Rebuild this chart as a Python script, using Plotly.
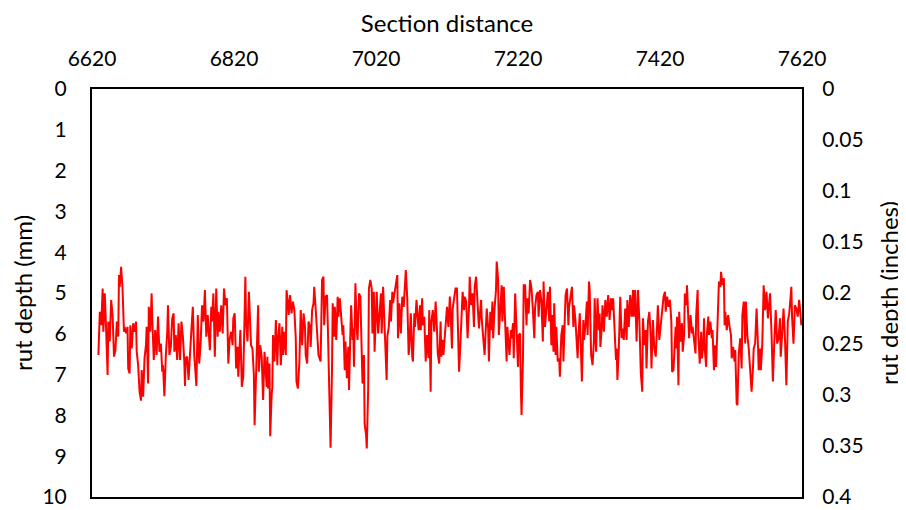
import plotly.graph_objects as go

# Section distance (ft) and rut depth (mm) in six stretches
dist_a = [6629,6631,6633,6635,6636,6638,6640,6642,6643,6645,6647,6649,6651,6653,6655,6657,6658,6659,6661,6663,
          6665,6666,6668,6670,6671,6673,6674,6676,6678,6680,6682,6683,6685,6687,6689,6690,6692,6694,6696,6697,
          6699,6700,6702,6704,6705,6707,6709,6711,6713,6715,6717,6719,6720,6722,6724,6726,6727,6729,6731,6733,
          6735,6736,6738,6740,6742,6744,6746,6748,6750,6751,6752,6754,6756,6758,6760,6762,6764,6766,6767,6769,
          6771,6773,6775,6777]
rut_a = [6.52,5.46,5.79,4.89,5.95,5.01,5.95,7.01,5.70,6.19,5.17,5.54,6.56,6.40,5.70,6.07,4.56,4.85,4.36,4.89,
         5.95,5.83,5.99,5.83,6.85,6.97,5.79,6.36,5.74,5.95,5.70,6.44,6.77,7.42,7.64,6.89,7.54,6.60,6.28,5.83,
         7.22,5.34,5.95,5.01,5.70,6.64,5.91,6.52,5.58,6.44,6.24,6.93,6.77,7.53,6.52,5.95,5.30,6.52,6.32,5.62,
         5.50,6.44,6.03,6.64,5.74,6.64,5.70,6.07,6.68,7.28,6.60,6.56,7.13,6.36,5.91,5.34,6.52,7.01,7.28,5.54,
         6.73,6.24,5.30,5.70]

dist_b = [6779,6781,6783,6786,6788,6789,6791,6793,6795,6797,6798,6800,6802,6804,6806,6808,6810,6812,6814,6816,
          6818,6819,6821,6823,6825,6826,6828,6829,6831,6833,6834,6836,6837,6839,6841,6843,6844,6846,6848,6849,
          6851,6852,6854,6855,6857,6859,6861,6863,6864,6866,6867,6868,6870,6871,6873,6874,6875,6877,6879,6881,
          6882,6884,6886,6888,6889,6891,6893,6894,6896,6897,6899,6901,6903,6905,6907,6908,6910,6912,6914,6916,
          6918,6920,6921,6923,6925,6927,6928,6930,6932,6933,6935,6937,6939]
rut_b = [4.93,6.07,5.54,6.40,5.34,5.70,5.01,6.56,4.89,6.07,5.46,5.95,5.30,5.99,4.89,5.30,5.13,6.73,6.11,5.95,
         6.28,5.62,5.50,6.85,6.32,7.05,6.24,5.91,7.30,7.05,6.28,4.60,5.70,6.19,4.97,5.70,6.28,6.36,7.01,8.24,
         7.17,6.56,5.30,6.93,6.28,6.56,7.62,6.44,6.85,7.30,6.56,7.34,6.73,8.51,7.50,7.30,6.03,6.68,5.66,6.77,
         6.19,5.74,6.77,5.83,6.52,5.95,6.52,4.93,5.25,5.54,5.05,5.50,5.21,5.42,6.11,7.17,7.34,6.73,5.42,6.28,
         5.50,5.83,6.52,6.73,5.70,5.83,6.32,5.42,5.25,4.85,5.38,6.11,6.52]

dist_c = [6942,6944,6946,6947,6949,6951,6952,6954,6956,6958,6959,6961,6962,6964,6966,6967,6969,6971,6973,6974,
          6976,6977,6979,6981,6982,6984,6985,6987,6988,6989,6991,6993,6994,6996,6998,6999,7001,7003,7004,7006,
          7007,7009,7010,7012,7014,7015,7017,7018,7020,7021,7023,7025,7027,7028,7030,7032,7033,7035,7036,7038,
          7040,7041,7043,7044,7046,7048,7050,7051,7053,7055,7057,7059,7060,7062,7064,7066,7067,7069,7071,7072,
          7074,7075,7077,7079,7080,7082,7083,7085,7086,7088,7090,7092,7094,7095,7097,7098,7100,7102]
rut_c = [6.68,4.68,4.60,5.79,5.09,5.05,5.70,7.75,8.79,6.93,5.25,6.07,5.34,6.15,5.09,5.58,5.13,5.58,6.03,5.79,
         6.89,6.19,7.09,6.32,7.38,5.91,5.30,6.15,5.87,6.81,4.76,5.91,6.15,5.01,5.09,5.83,7.22,6.52,8.20,8.48,
         8.81,7.34,4.89,4.68,4.89,5.99,4.97,6.44,5.70,4.97,5.99,5.38,5.01,5.99,4.85,5.79,6.32,7.13,6.07,5.83,
         5.17,5.70,4.97,5.25,5.01,4.81,4.56,6.11,5.25,5.99,5.09,5.34,4.97,4.44,5.13,6.52,6.32,5.50,6.56,6.68,
         5.50,5.83,5.17,5.79,5.91,5.30,5.91,5.13,5.79,5.58,6.68,6.03,6.60,5.42,7.42,5.70,5.42,5.95]

dist_d = [7104,7106,7107,7109,7111,7112,7114,7115,7117,7119,7120,7122,7124,7125,7127,7128,7130,7132,7134,7136,
          7137,7139,7141,7142,7144,7145,7147,7149,7151,7152,7154,7156,7158,7159,7161,7163,7165,7166,7168,7169,
          7171,7173,7174,7176,7178,7179,7181,7182,7184,7185,7187,7189,7190,7192,7193,7195,7197,7198,7200,7202,
          7204,7205,7206,7208,7210,7211,7213,7214,7216,7218,7220,7221,7223,7224,7225,7227,7228,7230,7232,7233,
          7235,7237,7239,7241,7243,7244,7246,7248,7249,7251,7253,7255,7256,7258,7260,7262,7264]
rut_d = [5.21,5.95,6.48,6.73,5.70,6.56,6.15,6.52,6.11,5.58,5.34,5.83,5.09,5.46,6.36,5.38,5.05,4.89,4.89,6.07,
         6.93,6.19,5.50,4.97,5.42,5.09,5.21,6.11,5.34,4.60,5.30,5.01,5.83,4.85,4.60,5.38,5.87,5.62,5.17,5.66,
         6.15,6.52,6.11,5.38,5.87,6.68,5.46,5.91,5.21,6.11,5.38,4.93,4.23,4.68,6.03,5.30,4.81,5.70,4.85,5.79,
         6.68,5.83,6.03,6.52,5.91,6.11,5.74,6.60,5.01,5.95,6.81,6.03,5.99,7.34,7.99,6.60,4.81,4.81,5.79,5.13,
         5.50,4.68,4.89,5.42,6.11,5.38,5.05,4.97,5.58,4.93,5.21,6.19,4.72,5.83,5.30,4.97,5.70]

dist_e = [7265,7267,7268,7270,7271,7273,7274,7276,7278,7279,7281,7283,7284,7286,7287,7289,7291,7292,7294,7296,
          7298,7299,7301,7303,7304,7305,7307,7310,7312,7313,7315,7317,7318,7320,7321,7323,7325,7327,7328,7330,
          7332,7334,7335,7336,7338,7339,7341,7343,7345,7347,7349,7351,7352,7354,7356,7358,7359,7360,7362,7364,
          7366,7367,7369,7371,7373,7374,7376,7378,7380,7382,7383,7385,7387,7389,7391,7393,7395,7396,7398,7400,
          7401,7403,7405,7407,7408,7410,7412,7414,7415,7417,7419,7421,7423,7425,7427,7428,7430,7432,7434,7436,
          7437,7439]
rut_e = [4.85,6.28,5.54,6.44,5.25,6.52,5.83,6.68,6.60,7.05,6.03,5.79,6.68,5.58,5.05,4.89,5.79,5.34,5.09,4.85,
         5.83,5.30,5.70,6.44,6.60,6.11,5.50,7.17,5.66,6.15,5.79,5.21,6.03,4.72,4.93,6.52,6.77,6.15,5.13,6.44,
         5.13,5.91,5.50,6.32,5.83,5.30,5.95,5.17,5.58,5.05,5.66,5.13,5.42,5.13,6.03,6.64,6.36,7.13,6.36,5.09,
         6.11,5.87,6.15,5.38,6.15,5.17,5.83,5.05,5.58,4.93,5.58,4.93,6.19,4.93,5.70,6.97,7.42,5.62,6.28,5.91,
         6.85,5.70,5.46,6.11,6.85,5.66,6.36,6.56,6.19,5.30,6.15,5.79,5.42,5.09,4.97,5.46,5.09,5.34,5.17,5.70,
         6.93,6.89]

dist_f = [7442,7443,7444,7446,7447,7449,7451,7452,7454,7455,7457,7458,7460,7461,7463,7465,7466,7468,7470,7471,
          7473,7474,7476,7478,7479,7481,7482,7483,7485,7486,7488,7489,7491,7493,7494,7496,7497,7499,7501,7503,
          7505,7506,7508,7510,7511,7512,7514,7516,7518,7520,7521,7523,7525,7526,7528,7529,7531,7533,7535,7536,
          7538,7540,7541,7543,7545,7547,7549,7551,7552,7554,7556,7558,7559,7561,7562,7564,7566,7568,7570,7572,
          7574,7575,7577,7579,7581,7583,7585,7587,7589,7590,7592,7594,7596,7598,7600,7602,7604,7605,7606,7608,
          7610,7612,7614,7616,7618,7619]
rut_f = [5.83,6.36,5.58,7.26,5.46,6.19,5.74,6.44,6.03,5.01,5.30,4.81,5.70,6.11,5.54,5.99,5.83,6.19,6.48,5.54,
         4.93,6.03,6.73,5.95,6.60,6.28,5.62,6.36,6.81,6.03,5.58,6.03,5.70,6.11,5.91,6.89,6.28,6.81,5.79,4.72,
         4.85,4.48,4.81,4.64,5.79,5.46,5.91,5.54,5.83,6.03,6.60,6.32,6.68,6.40,7.71,7.75,6.48,6.11,6.85,5.54,
         5.21,6.24,5.21,6.03,6.36,6.93,7.42,6.81,6.36,6.24,5.38,6.28,6.89,6.36,6.89,6.28,4.81,5.42,4.97,5.62,
         5.30,5.01,5.95,7.17,6.19,5.42,6.24,6.11,5.62,6.56,6.03,5.38,6.11,7.26,5.70,5.50,5.09,4.85,5.58,6.24,
         5.30,5.38,5.58,5.17,5.54,5.79]

x_ticks = [6620, 6820, 7020, 7220, 7420, 7620]
mm_ticks = [0, 1, 2, 3, 4, 5, 6, 7, 8, 9, 10]
in_ticks = [0, 0.05, 0.1, 0.15, 0.2, 0.25, 0.3, 0.35, 0.4]
in_labels = ["0", "0.05", "0.1", "0.15", "0.2", "0.25", "0.3", "0.35", "0.4"]

segments = [(dist_a, rut_a), (dist_b, rut_b), (dist_c, rut_c),
            (dist_d, rut_d), (dist_e, rut_e), (dist_f, rut_f)]
distance, rut_mm = [], []
for d, r in segments:
    assert len(d) == len(r), (len(d), len(r))
    distance += d
    rut_mm += r

FONT = "Lato"
TICK = 21
TITLE = 24
fig = go.Figure()
fig.add_trace(go.Scatter(x=distance, y=rut_mm, mode="lines",
                         line=dict(color="#FF0000", width=2), showlegend=False))
fig.add_trace(go.Scatter(x=[x_ticks[0]], y=[in_ticks[0]], yaxis="y2", mode="markers",
                         marker=dict(opacity=0), showlegend=False, hoverinfo="skip"))

# the page body adds an 8px offset, so the figure is 8px smaller and margins shifted
fig.update_layout(
    width=898, height=502,
    margin=dict(l=84, r=104, t=81, b=13, autoexpand=False),
    paper_bgcolor="white", plot_bgcolor="white",
    font=dict(family=FONT, color="black", size=TICK),
    xaxis=dict(side="top", range=[6620, 7620], tickvals=x_ticks, automargin=False,
               showgrid=False, zeroline=False,
               showline=True, mirror=True, linecolor="black", linewidth=2,
               ticks="outside", ticklen=13, tickcolor="rgba(0,0,0,0)",
               tickfont=dict(size=TICK),
               title=dict(text="Section distance", font=dict(size=TITLE), standoff=15)),
    yaxis=dict(range=[10, 0], tickvals=mm_ticks, automargin=False,
               showgrid=False, zeroline=False,
               showline=True, mirror=True, linecolor="black", linewidth=2,
               ticks="outside", ticklen=19, tickcolor="rgba(0,0,0,0)",
               tickfont=dict(size=TICK),
               title=dict(text="rut depth (mm)", font=dict(size=TITLE), standoff=7)),
    yaxis2=dict(overlaying="y", side="right", range=[0.4, 0], automargin=False,
                tickvals=in_ticks, ticktext=in_labels,
                showgrid=False, zeroline=False, showline=False,
                ticks="outside", ticklen=15, tickcolor="rgba(0,0,0,0)",
                tickfont=dict(size=TICK),
                title=dict(text="rut depth (inches)", font=dict(size=TITLE), standoff=18)),
)

fig.write_html("out.html")
